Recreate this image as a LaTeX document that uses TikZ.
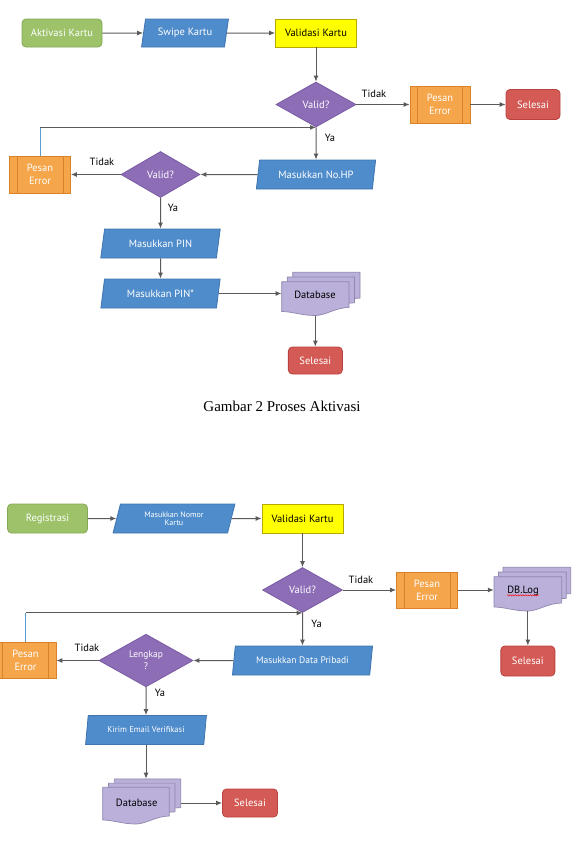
\documentclass[tikz,border=0pt]{standalone}
\usepackage{fontspec}
\setmainfont{PT Sans}
\newfontfamily\capfont{Liberation Serif}
\usetikzlibrary{shapes.geometric,arrows.meta,decorations.pathmorphing}

\definecolor{gfill}{HTML}{9DC26A}\definecolor{gline}{HTML}{86A957}
\definecolor{bfill}{HTML}{4F8CCB}\definecolor{bline}{HTML}{3F74AE}
\definecolor{yfill}{HTML}{FFFF00}\definecolor{yline}{HTML}{B8A800}
\definecolor{pfill}{HTML}{8D6DB6}\definecolor{pline}{HTML}{7A5BA3}
\definecolor{ofill}{HTML}{F5A54A}\definecolor{oline}{HTML}{D9822B}
\definecolor{rfill}{HTML}{D45A55}\definecolor{rline}{HTML}{B9433F}
\definecolor{dfill}{HTML}{BAB0DA}\definecolor{dline}{HTML}{8F86AE}
\definecolor{aline}{HTML}{5A5A5A}
\definecolor{fbline}{HTML}{5B9BD5}

% document outline: options, x0, ytop, x1, ybottom
\newcommand{\docshape}[5]{%
  \draw[#1] (#2,#3) -- (#4,#3) -- (#4,#5-8)
    .. controls ({#4-0.2*(#4-#2)},#5-8) and ({(#2+#4)/2+0.15*(#4-#2)},#5) .. ({(#2+#4)/2},#5)
    .. controls ({(#2+#4)/2-0.2*(#4-#2)},#5) and ({#2+0.15*(#4-#2)},#5-4) .. (#2,#5-4) -- cycle;}

\tikzset{
  base/.style={inner sep=0pt, font=\fontsize{10.5}{13}\selectfont, align=center, line width=0.8pt},
  startbox/.style={base, rectangle, rounded corners=4pt, fill=gfill, draw=gline, text=white},
  endbox/.style={base, rectangle, rounded corners=4pt, fill=rfill, draw=rline, text=white},
  iobox/.style={base, trapezium, trapezium left angle=74, trapezium right angle=106,
    trapezium stretches=true, fill=bfill, draw=bline, text=white},
  procbox/.style={base, rectangle, fill=yfill, draw=yline, text=black},
  decbox/.style={base, diamond, fill=pfill, draw=pline, text=white},
  errbox/.style={base, rectangle, fill=ofill, draw=oline, text=white,
    path picture={\draw[oline, line width=0.8pt]
      ([xshift=7.5pt]path picture bounding box.north west) -- ([xshift=7.5pt]path picture bounding box.south west)
      ([xshift=-7.5pt]path picture bounding box.north east) -- ([xshift=-7.5pt]path picture bounding box.south east);}},
  docsty/.style={fill=dfill, draw=dline, line width=0.7pt},
  dockey/.style={inner sep=0pt},
  lbl/.style={font=\fontsize{10.5}{13}\selectfont, text=black, inner sep=0pt},
  arr/.style={draw=aline, line width=1pt, -{Latex[length=6pt,width=5pt]}},
  ln/.style={draw=aline, line width=1pt},
  fb/.style={draw=fbline, line width=1pt},
}

\begin{document}
\begin{tikzpicture}[x=1pt,y=-1pt]
\useasboundingbox (0,0) rectangle (584,855);
\clip (0,0) rectangle (584,855);

% ---------------- top diagram ----------------
\node[startbox, minimum width=80pt, minimum height=28pt] (a1) at (62,33) {Aktivasi Kartu};
\node[iobox, minimum width=87pt, minimum height=28pt] (s1) at (185,33) {Swipe Kartu};
\node[procbox, minimum width=81pt, minimum height=28pt] (v1) at (316,33) {Validasi Kartu};
\node[decbox, minimum width=80pt, minimum height=45pt] (d1) at (316,104.5) {Valid?};
\node[errbox, minimum width=60pt, minimum height=37pt] (e1) at (440,104.5) {Pesan\\Error};
\node[endbox, minimum width=54pt, minimum height=30pt] (f1) at (533,104.5) {Selesai};
\node[iobox, minimum width=120pt, minimum height=29pt] (h1) at (316,174.5) {Masukkan No.HP};
\node[decbox, minimum width=79pt, minimum height=46pt] (d2) at (160.5,174.5) {Valid?};
\node[errbox, minimum width=61pt, minimum height=37pt] (e2) at (40,174.5) {Pesan\\Error};
\node[iobox, minimum width=120pt, minimum height=29pt] (p1) at (160.5,243.5) {Masukkan PIN};
\node[iobox, minimum width=120pt, minimum height=29pt] (p2) at (160.5,293.5) {Masukkan PIN*};

\docshape{docsty}{292.7}{272.3}{360}{306.1}
\docshape{docsty}{287.2}{277}{354.5}{310.8}
\docshape{docsty}{281.7}{281.7}{349}{315.5}
\node[dockey, minimum width=67.3pt, minimum height=33.8pt] (db1) at (315.35,298.6) {};
\node[lbl] (db1t) at (315,295) {Database};
\node[endbox, minimum width=54pt, minimum height=27pt] (f2) at (315.35,360.5) {Selesai};

\node[lbl] (t1) at (374,94) {Tidak};
\node[lbl] (y1) at (330,138) {Ya};
\node[lbl] (t2) at (102,162) {Tidak};
\node[lbl] (y2) at (173,208) {Ya};

\draw[arr] (a1) -- (s1);
\draw[arr] (s1) -- (v1);
\draw[arr] (v1) -- (d1);
\draw[arr] (d1) -- (e1);
\draw[arr] (e1) -- (f1);
\draw[arr] (d1.south) -- (h1.north);
\draw[arr] (h1.west) -- (d2.east);
\draw[arr] (d2.west) -- (e2.east);
\draw[fb] (e2.north) -- (e2.north |- d1.south);
\draw[arr] (e2.north |- d1.south) -- (d1.south);
\draw[arr] (d2.south) -- (p1.north);
\draw[arr] (p1.south) -- (p2.north);
\draw[arr] (p2.east) -- (p2.east -| db1.west);
\draw[arr] (db1.south) -- (f2.north);

% caption
\node[font=\capfont\fontsize{15}{18}\selectfont, inner sep=0pt] (cap) at (282,406) {Gambar 2 Proses Aktivasi};

% ---------------- bottom diagram ----------------
\node[startbox, minimum width=80pt, minimum height=29pt] (r2) at (47.5,518.5) {Registrasi};
\node[iobox, minimum width=122pt, minimum height=29pt, font=\fontsize{8}{8.5}\selectfont] (n2) at (174,518.5) {Masukkan Nomor\\Kartu};
\node[procbox, minimum width=81pt, minimum height=29pt] (v2) at (302.5,518.5) {Validasi Kartu};
\node[decbox, minimum width=80pt, minimum height=45pt] (d3) at (302.5,590) {Valid?};
\node[errbox, minimum width=61pt, minimum height=36pt] (e3) at (427,590) {Pesan\\Error};

\docshape{docsty}{503}{567.3}{570.7}{601.6}
\docshape{docsty}{498.5}{572}{566.2}{606.3}
\docshape{docsty}{494}{576.7}{561.7}{611}
\node[dockey, minimum width=67.7pt, minimum height=34.3pt] (dbl) at (527.85,593.85) {};
\node[lbl] (dblt) at (523,590.7) {DB.Log};
\draw[red, line width=0.5pt, decorate, decoration={snake, amplitude=0.6pt, segment length=2.5pt}]
  ([yshift=-2pt]dblt.base west) -- ([yshift=-2pt]dblt.base east);
\node[endbox, minimum width=54pt, minimum height=30pt] (f3) at (527.85,661) {Selesai};

\node[iobox, minimum width=141pt, minimum height=29pt, font=\fontsize{9.5}{11}\selectfont] (m2) at (302.5,660.5) {Masukkan Data Pribadi};
\node[decbox, minimum width=94pt, minimum height=46pt, font=\fontsize{9.5}{12}\selectfont] (d4) at (146,660.5) {Lengkap\\?};
\node[errbox, minimum width=61pt, minimum height=36pt] (e4) at (25.5,660.5) {Pesan\\Error};
\node[iobox, minimum width=121pt, minimum height=29pt, font=\fontsize{8.5}{10}\selectfont] (k2) at (146,730) {Kirim Email Verifikasi};

\docshape{docsty}{114.1}{778.9}{180.7}{815.6}
\docshape{docsty}{108.4}{783.1}{175}{819.8}
\docshape{docsty}{102.7}{787.3}{169.3}{824}
\node[dockey, minimum width=66.6pt, minimum height=36.7pt] (db2b) at (147.4,797.25) {};
\node[lbl] (db2t) at (136.7,802.7) {Database};
\node[endbox, minimum width=55pt, minimum height=28pt] (f4) at (250,803) {Selesai};

\node[lbl] (t3) at (361,580) {Tidak};
\node[lbl] (y3) at (316.6,624) {Ya};
\node[lbl] (t4) at (87,648) {Tidak};
\node[lbl] (y4) at (160,693) {Ya};

\draw[arr] (r2) -- (n2);
\draw[arr] (n2) -- (v2);
\draw[arr] (v2) -- (d3);
\draw[arr] (d3) -- (e3);
\draw[arr] (e3.east) -- (e3.east -| dbl.west);
\draw[arr] (dbl.south) -- (dbl.south |- f3.north);
\draw[arr] (d3.south) -- (m2.north);
\draw[arr] (m2.west) -- (d4.east);
\draw[arr] (d4.west) -- (e4.east);
\draw[fb] (e4.north) -- (e4.north |- d3.south);
\draw[arr] (e4.north |- d3.south) -- (d3.south);
\draw[arr] (d4.south) -- (k2.north);
\draw[arr] (k2.south) -- (k2.south |- db2b.north);
\draw[arr] (db2b.east |- f4.west) -- (f4.west);
\end{tikzpicture}
\end{document}
